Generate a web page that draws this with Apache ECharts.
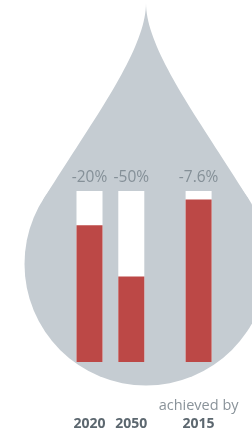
<!DOCTYPE html>
<html>
<head>
<meta charset="utf-8">
<script src="https://cdn.jsdelivr.net/npm/echarts@6/dist/echarts.min.js"></script>
<style>
  html, body { margin: 0; padding: 0; background: #fff; }
  #drop { width: 252px; height: 436px; }
</style>
</head>
<body>
<div id="drop"></div>
<script>
// 年份 / 目标
var years = ['2020', '2050', '2015']
// 条形在x轴上的位置（第三根隔得远一点）
var xPos = [0, 1, 2.61]
// 满格 = 100
var fullValues = [100, 100, 100]
// 剩余部分（红色）
var redValues = [80, 50, 95]
// 顶部标签
var topLabels = ['-20%', '-50%', '-7.6%']
// 第三根下面多一行
var subLabels = ['', '', 'achieved by']

var chart = echarts.init(document.getElementById('drop'))

function pairs(vals) {
    var out = []
    for (var i = 0; i < vals.length; i++) {
        out.push([xPos[i], vals[i]])
    }
    return out
}

// 水滴尖部：两条三次贝塞尔曲线拼成的多边形
function bez(p0, p1, p2, p3, t) {
    var u = 1 - t
    return [
        u * u * u * p0[0] + 3 * u * u * t * p1[0] + 3 * u * t * t * p2[0] + t * t * t * p3[0],
        u * u * u * p0[1] + 3 * u * u * t * p1[1] + 3 * u * t * t * p2[1] + t * t * t * p3[1]
    ]
}
function tipPoints() {
    var pts = []
    var n = 40
    for (var i = 0; i <= n; i++) {
        pts.push(bez([146, 3], [146, 50], [92.6, 120], [43, 200], i / n))
    }
    for (var j = 0; j <= n; j++) {
        pts.push(bez([249, 200], [199.4, 120], [146, 50], [146, 3], j / n))
    }
    return pts
}

var dropColor = '#c5ccd2'

var option = {
    animation: false,
    // 水滴背景
    graphic: [
        {
            type: 'circle',
            z: 0,
            shape: { cx: 146, cy: 264, r: 121.5 },
            style: { fill: dropColor }
        },
        {
            type: 'polygon',
            z: 0,
            shape: { points: tipPoints() },
            style: { fill: dropColor }
        }
    ],
    grid: {
        left: 47.7,
        right: 37.1,
        top: 191,
        bottom: 74
    },
    xAxis: {
        type: 'value',
        min: -1,
        max: 3,
        axisLine: { show: false },
        axisTick: { show: false },
        splitLine: { show: false },
        axisLabel: {
            customValues: xPos,
            margin: 35,
            formatter: function (v) {
                for (var i = 0; i < xPos.length; i++) {
                    if (Math.abs(xPos[i] - v) < 1e-6) {
                        return '{a|' + (subLabels[i] || ' ') + '}\n{b|' + years[i] + '}'
                    }
                }
                return ''
            },
            rich: {
                a: {
                    fontFamily: 'Open Sans',
                    fontSize: 14.5,
                    color: '#8a939a',
                    lineHeight: 18,
                    align: 'center'
                },
                b: {
                    fontFamily: 'Open Sans',
                    fontSize: 14,
                    fontWeight: 'bold',
                    color: '#5c676f',
                    lineHeight: 18,
                    align: 'center'
                }
            }
        }
    },
    yAxis: {
        type: 'value',
        min: 0,
        max: 100,
        show: false
    },
    series: [
        {
            name: 'full',
            type: 'bar',
            barWidth: 26,
            barGap: '-100%',
            data: pairs(fullValues),
            itemStyle: { color: '#ffffff' },
            label: {
                show: true,
                position: 'top',
                distance: 5,
                fontFamily: 'Open Sans',
                fontSize: 15.5,
                color: '#859098',
                formatter: function (p) {
                    return topLabels[p.dataIndex]
                }
            }
        },
        {
            name: 'left',
            type: 'bar',
            barWidth: 26,
            barGap: '-100%',
            data: pairs(redValues),
            itemStyle: { color: '#bc4846' }
        }
    ]
}

chart.setOption(option)
</script>
</body>
</html>
